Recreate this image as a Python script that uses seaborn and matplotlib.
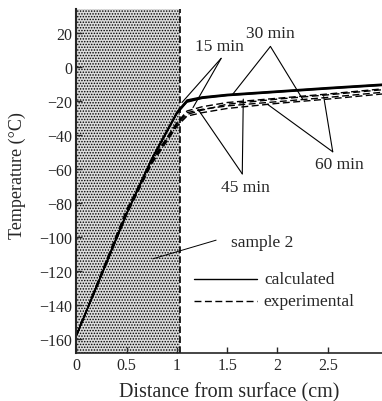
import numpy as np
import pandas as pd
import matplotlib
matplotlib.use('Agg')
import matplotlib.pyplot as plt
import seaborn as sns

# distancia desde la superficie (cm)
distance = [0, 0.25, 0.5, 0.75, 1.0, 1.1, 1.25, 1.5, 2.0, 2.5, 3.04]

# perfiles calculados
calc_15 = [-158, -122, -86, -54, -27, -20, -18, -16.5, -14.5, -12.5, -10.5]
calc_30 = [-158, -122, -86, -54, -26.5, -19.5, -17.7, -16.2, -14.2, -12.2, -10.2]
calc_45 = [-158, -122.5, -86.5, -54.5, -27.5, -20.5, -18.3, -16.8, -14.8, -12.8, -10.8]
calc_60 = [-158, -122.5, -86.5, -54.5, -27.5, -20.8, -18.6, -17, -15, -13, -11]

# perfiles experimentales
exp_15 = [-158, -121, -84, -55, -33, -27, -25, -23, -20.5, -18, -15]
exp_30 = [-158, -122, -85, -56, -34, -28, -25.5, -22, -19, -16.5, -13.5]
exp_45 = [-158, -122, -86, -56, -33, -26, -23.5, -21, -18.5, -16, -13]
exp_60 = [-158, -123, -87, -57, -35, -29, -27, -24.5, -21.5, -19, -16]

y_ticks = [-160, -140, -120, -100, -80, -60, -40, -20, 0, 20]
x_ticks = [0, 0.5, 1, 1.5, 2, 2.5]
x_tick_labels = ['0', '0.5', '1', '1.5', '2', '2.5']

sns.set_style('ticks')
plt.rcParams['font.family'] = ['Liberation Serif', 'DejaVu Serif']
plt.rcParams['hatch.linewidth'] = 0.7

fig = plt.figure(figsize=(3.82, 4.02), dpi=100)
ax = fig.add_axes([0.2, 0.119, 0.8, 0.856])

# zona de la muestra
ax.axvspan(0, 1.03, facecolor='#dcdcdc', edgecolor='black', hatch='......', linewidth=0, zorder=0)
ax.axvline(1.03, color='black', linestyle=(0, (4, 2)), linewidth=1.2)

for y in [calc_15, calc_30, calc_45, calc_60]:
    sns.lineplot(x=distance, y=y, ax=ax, color='black', linewidth=1.0)
for y in [exp_15, exp_30, exp_45, exp_60]:
    sns.lineplot(x=distance, y=y, ax=ax, color='black', linewidth=1.0, linestyle=(0, (5, 2.5)))

# anotaciones
def lines(apex, targets):
    for px, py in targets:
        ax.plot([apex[0], px], [apex[1], py], color='black', linewidth=0.8)

fs = 12.5
ax.text(1.42, 12, '15 min', fontsize=fs, ha='center', va='center')
lines((1.44, 5), [(1.05, -21), (1.16, -24)])
ax.text(1.93, 20, '30 min', fontsize=fs, ha='center', va='center')
lines((1.93, 12), [(1.55, -16.5), (2.25, -19)])
ax.text(1.68, -71, '45 min', fontsize=fs, ha='center', va='center')
lines((1.65, -63), [(1.21, -25), (1.66, -19)])
ax.text(2.62, -57, '60 min', fontsize=fs, ha='center', va='center')
lines((2.55, -50), [(1.90, -22), (2.46, -17.5)])

ax.text(1.85, -103, 'sample 2', fontsize=fs, ha='center', va='center')
ax.plot([1.39, 0.76], [-102, -113], color='black', linewidth=0.7)

# leyenda manual
ax.plot([1.17, 1.8], [-125, -125], color='black', linewidth=1.0)
ax.text(1.87, -125, 'calculated', fontsize=fs, ha='left', va='center')
ax.plot([1.17, 1.8], [-138, -138], color='black', linewidth=1.0, linestyle=(0, (5, 2.5)))
ax.text(1.86, -138, 'experimental', fontsize=fs, ha='left', va='center')

ax.set_xlim(0, 3.04)
ax.set_ylim(-168.5, 34)
ax.set_xticks(x_ticks)
ax.set_xticklabels(x_tick_labels)
ax.set_yticks(y_ticks)
ax.tick_params(axis='both', direction='in', length=4, width=1, labelsize=11.5, pad=3)
ax.set_xlabel('Distance from surface (cm)', fontsize=14.5, labelpad=6)
ax.set_ylabel('Temperature (\u00b0C)', fontsize=13)
ax.yaxis.set_label_coords(-0.165, 0.52)
for s in ['top', 'right']:
    ax.spines[s].set_visible(False)
ax.spines['left'].set_linewidth(1.5)
ax.spines['bottom'].set_linewidth(1.2)

fig.savefig('out.png', dpi=100)
